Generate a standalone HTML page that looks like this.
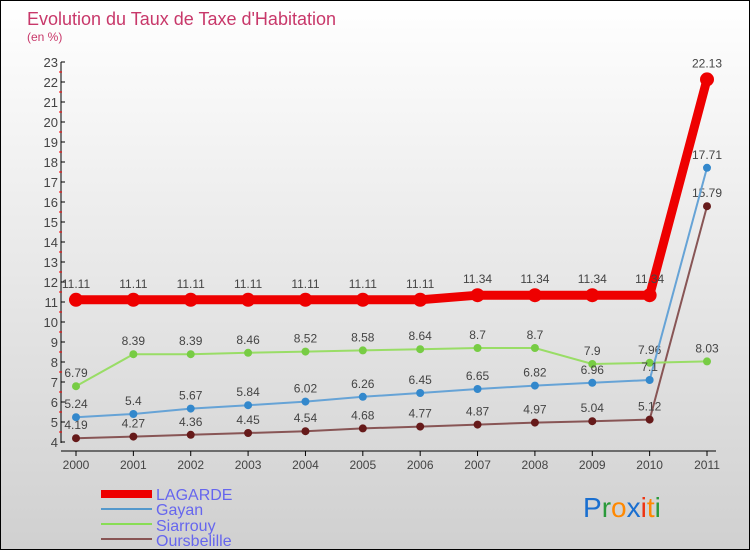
<!DOCTYPE html>
<html><head><meta charset="utf-8"><style>
body{margin:0}
#c{width:750px;height:550px;position:relative;overflow:hidden;box-sizing:border-box;border:1px solid #000;background:linear-gradient(#fff,#d0d0d0);font-family:"Liberation Sans",sans-serif}
text{font-family:"Liberation Sans",sans-serif}
</style></head><body>
<div id="c">
<svg id="s" width="750" height="550">
<text x="26" y="24" font-size="18" fill="#c8386a">Evolution du Taux de Taxe d'Habitation</text>
<text x="26" y="40" font-size="12" fill="#c8386a">(en %)</text>
<g id="axes"></g><g id="marks"></g>
<g>
<rect x="100" y="489" width="51" height="8" fill="#ee0000"/>
<text x="155" y="499" font-size="16" fill="#6666ee">LAGARDE</text>
<rect x="100" y="507" width="51" height="2" fill="#5599cc"/>
<text x="155" y="514" font-size="16" fill="#6666ee">Gayan</text>
<rect x="100" y="522" width="51" height="2" fill="#88dd55"/>
<text x="155" y="530" font-size="16" fill="#6666ee">Siarrouy</text>
<rect x="100" y="537" width="51" height="2" fill="#885555"/>
<text x="155" y="545" font-size="16" fill="#6666ee">Oursbelille</text>
</g>
<g font-size="28">
<text x="582" y="516"><tspan fill="#1a6fd0">P</tspan><tspan fill="#2a9a3a">r</tspan><tspan fill="#ff8800">o</tspan><tspan fill="#1a6fd0">x</tspan><tspan fill="#ee3311">i</tspan><tspan fill="#ff8800">t</tspan><tspan fill="#2a9a3a">i</tspan></text>
</g>
</svg></div>
<script>
const years=["2000","2001","2002","2003","2004","2005","2006","2007","2008","2009","2010","2011"];
const lagarde=[11.11,11.11,11.11,11.11,11.11,11.11,11.11,11.34,11.34,11.34,11.34,22.13];
const gayan=[5.24,5.4,5.67,5.84,6.02,6.26,6.45,6.65,6.82,6.96,7.1,17.71];
const siarrouy=[6.79,8.39,8.39,8.46,8.52,8.58,8.64,8.7,8.7,7.9,7.96,8.03];
const oursbelille=[4.19,4.27,4.36,4.45,4.54,4.68,4.77,4.87,4.97,5.04,5.12,15.79];
const yTicks=[4,5,6,7,8,9,10,11,12,13,14,15,16,17,18,19,20,21,22,23];
const NS="http://www.w3.org/2000/svg";
const X=i=>75+i*(706-75)/11, Y=v=>441-(v-4)*20;
function mk(p,t,a){const e=document.createElementNS(NS,t);for(const k in a)e.setAttribute(k,a[k]);p.appendChild(e);return e;}
const ax=document.getElementById('axes'),mg=document.getElementById('marks');
let l=mk(ax,'line',{x1:60,y1:61,x2:60,y2:442,stroke:'#000'});

l=mk(ax,'line',{x1:60,y1:450,x2:715,y2:450,stroke:'#000'});

yTicks.forEach(v=>{mk(ax,'line',{x1:60,y1:Y(v),x2:64,y2:Y(v),stroke:'#000'});
 if(v<23)mk(ax,'line',{x1:58,y1:Y(v+0.5),x2:61,y2:Y(v+0.5),stroke:'#f00'});
 const t=mk(ax,'text',{x:57,y:Y(v)+5,'font-size':13,fill:'#444','text-anchor':'end'});t.textContent=v;
 });
years.forEach((y,i)=>{mk(ax,'line',{x1:X(i),y1:450,x2:X(i),y2:455,stroke:'#000'});
 const t=mk(ax,'text',{x:X(i),y:468,'font-size':12,fill:'#444','text-anchor':'middle'});t.textContent=y;
 });
function series(d,col,dot,w,r,name){
 const p=mk(mg,'polyline',{points:d.map((v,i)=>X(i)+','+Y(v)).join(' '),fill:'none',stroke:col,'stroke-width':w});
 
 d.forEach((v,i)=>{const c=mk(mg,'circle',{cx:X(i),cy:Y(v),r:r,fill:dot});
  
  const t=mk(mg,'text',{x:X(i),y:Y(v)-(r+5),'font-size':12,fill:'#444','text-anchor':'middle'});t.textContent=v;
  });
}
series(oursbelille,'#885555','#661a1a',2,4,'oursbelille');
series(siarrouy,'#99dd66','#77cc44',2,4,'siarrouy');
series(gayan,'#66a3d6','#3388cc',2,4,'gayan');
series(lagarde,'#ee0000','#ee0000',9,7,'lagarde');
</script></body></html>
